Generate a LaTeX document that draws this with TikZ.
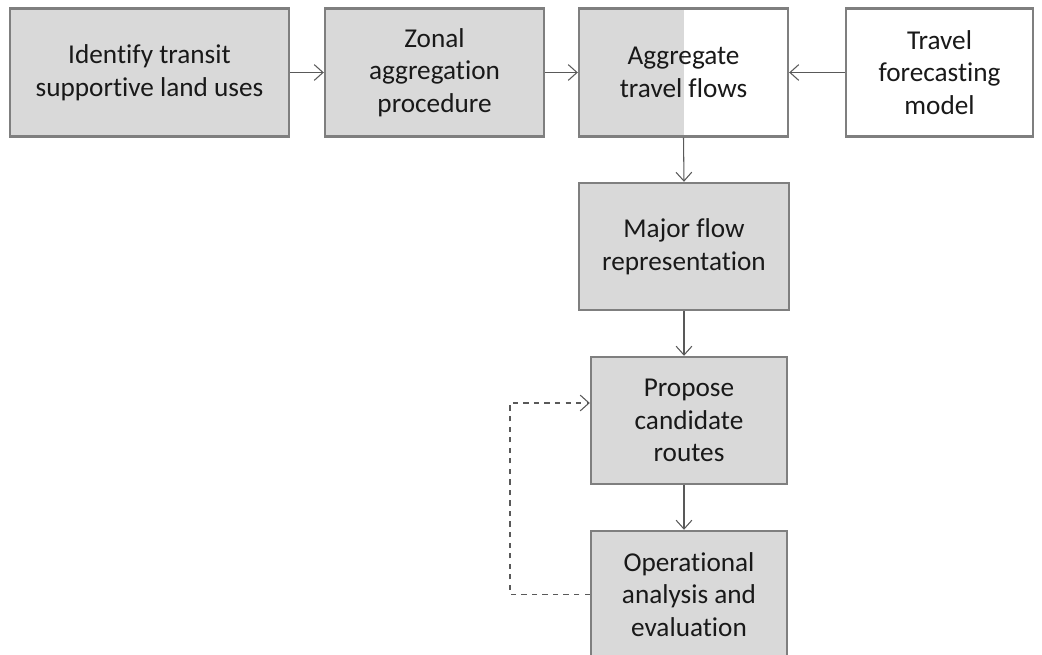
\documentclass[tikz,border=0pt]{standalone}
\usepackage{fontspec}
\setmainfont{Carlito}[Ligatures={NoCommon}]
\usetikzlibrary{arrows.meta}
\definecolor{boxgray}{HTML}{D9D9D9}
\definecolor{edgegray}{HTML}{7F7F7F}
\definecolor{linegray}{HTML}{595959}
\tikzset{
  stage/.style={draw=edgegray, line width=1.4pt, fill=boxgray, align=center,
    minimum height=2.56cm, inner sep=0pt, text=black!90,
    font=\fontsize{15.5}{18.6}\selectfont},
  halfstage/.style={stage, fill=white, path picture={
    \fill[boxgray] (path picture bounding box.south west)
      rectangle (path picture bounding box.north);}},
  flow/.style={draw=linegray, line width=0.6pt,
    -{Straight Barb[length=5pt, width=9pt]}}
}
\begin{document}
\begin{tikzpicture}[x=0.02cm, y=-0.02cm]
  \clip (0,0) rectangle (1042,655);
  \fill[white] (0,0) rectangle (1042,655);

  \node[stage, minimum width=5.58cm] (landuse) at (149.5,72.5) {Identify transit\\supportive land uses};
  \node[stage, minimum width=4.38cm] (zonal) at (434.5,72.5) {Zonal\\aggregation\\procedure};
  \node[halfstage, minimum width=4.18cm] (aggr) at (683.5,72.5) {Aggregate\\travel flows};
  \node[stage, fill=white, minimum width=3.74cm] (model) at (939.5,72.5) {Travel\\forecasting\\model};
  \node[stage, minimum width=4.2cm, minimum height=2.54cm] (major) at (684,246.5) {Major flow\\representation};
  \node[stage, minimum width=3.92cm, minimum height=2.54cm] (propose) at (689,420.5) {Propose\\candidate\\routes};
  \node[stage, minimum width=3.92cm, minimum height=2.54cm] (oper) at (689,594.5) {Operational\\analysis and\\evaluation};

  \draw[flow] (landuse) -- (zonal);
  \draw[flow] (zonal) -- (aggr);
  \draw[flow] (model) -- (aggr);
  \draw[flow] (aggr.south) -- (major.north);
  \draw[flow] (major.south) -- (major.south |- propose.north);
  \draw[flow] (propose.south -| major.south) -- (major.south |- oper.north);

  % feedback loop
  \coordinate (back) at (510,403);
  \draw[flow, dashed] (oper.west) -| (back) -- (back -| propose.west);
\end{tikzpicture}
\end{document}
